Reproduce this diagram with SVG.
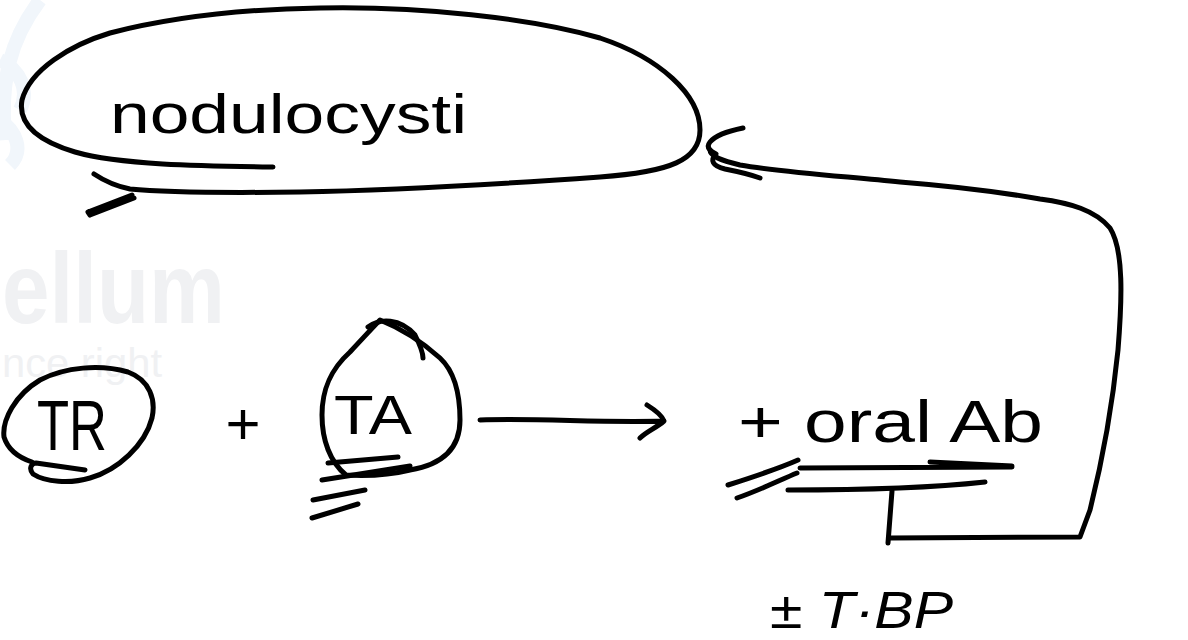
<svg xmlns="http://www.w3.org/2000/svg" width="1188" height="640" viewBox="0 0 1188 640">
<style>
.ink{fill:none;stroke:#000;stroke-width:5;stroke-linecap:round;stroke-linejoin:round}
.hw{font-family:"Liberation Sans","DejaVu Sans",sans-serif;fill:#000}
.wm{font-family:"Liberation Sans",Arial,sans-serif;fill:#f0f1f3}
</style>
<rect width="1188" height="640" fill="#fff"/>
<!-- faint watermark -->
<g id="watermark">
<path d="M40,0 C10,40 0,80 5,140 M0,60 C20,70 30,90 20,110 M0,120 C15,130 25,150 10,165" fill="none" stroke="#f1f6fb" stroke-width="14"/>
<text class="wm" x="2" y="323" font-size="100" font-weight="bold" textLength="223" lengthAdjust="spacingAndGlyphs">ellum</text>
<text class="wm" x="2" y="377" font-size="40" textLength="160" lengthAdjust="spacingAndGlyphs">nce right</text>
</g>
<g id="connectors">
<!-- TA to oral Ab arrow -->
<path class="ink" d="M480,420 C540,418 600,423 664,421 M647,405 C655,410 662,415 664,421 C656,428 646,432 640,438"/>
<!-- feedback loop from oral Ab back to nodulocysti -->
<path class="ink" d="M892,491 L888,543 M890,538 L1080,537 L1090,510 C1100,470 1112,410 1118,350 C1122,300 1124,250 1110,228 C1095,210 1070,203 1040,199 C1000,192 950,186 900,182 C840,176 780,172 740,165 C720,160 710,156 710,150"/>
<path class="ink" d="M743,128 C728,131 715,136 710,142 C705,148 712,152 716,154 C710,160 712,166 725,169 C740,172 752,175 760,178"/>
</g>
<g id="node-nodulocysti">
<path class="ink" d="M273,167 C200,166 120,165 75,152 C35,140 18,122 22,100 C30,70 70,45 110,33 C180,15 250,9 320,8 C420,6 530,18 600,38 C660,58 700,95 700,130 C700,160 670,172 600,177 C500,184 400,190 300,192 C220,193 160,192 130,189 C115,186 103,180 94,174"/>
<path class="ink" d="M132,195 L88,212 M134,198 L90,215 M88,212 L90,215"/>
<text class="hw" x="110" y="133" font-size="56" textLength="357" lengthAdjust="spacingAndGlyphs">nodulocysti</text>
</g>
<g id="node-TR">
<path class="ink" d="M32,462 C20,458 8,450 4,437 C2,420 15,395 40,380 C65,367 100,364 128,372 C150,380 156,400 152,418 C145,445 118,470 90,478 C70,484 45,482 33,474 C28,468 32,463 36,463 L85,470"/>
<text class="hw" x="37" y="450" font-size="70" textLength="70" lengthAdjust="spacingAndGlyphs">TR</text>
</g>
<g id="plus">
<text class="hw" x="243" y="444" font-size="60" text-anchor="middle">+</text>
</g>
<g id="node-TA">
<path class="ink" d="M346,475 C330,462 322,440 322,415 C322,390 330,370 350,352 C365,336 375,325 380,320 C400,328 420,340 440,358 C455,372 460,395 460,420 C460,450 440,465 410,470 C390,475 365,476 346,475"/>
<path class="ink" d="M368,327 C380,318 400,318 415,335 C420,345 423,352 423,358"/>
<text class="hw" x="334" y="434" font-size="56" textLength="78" lengthAdjust="spacingAndGlyphs">TA</text>
<path class="ink" d="M328,463 L398,457 M322,480 L410,466 M313,500 L365,490 M312,518 L358,504"/>
</g>
<g id="node-oral-ab">
<text class="hw" x="738" y="442" font-size="60" textLength="305" lengthAdjust="spacingAndGlyphs">+ oral Ab</text>
<path class="ink" d="M800,468 L1012,467 M930,462 L1012,466 M788,490 C850,490 930,488 985,482 M728,485 C750,478 780,468 798,460 M737,498 C760,490 780,480 797,473"/>
</g>
<g id="node-tbp">
<text class="hw" x="770" y="628" font-size="52" textLength="183" lengthAdjust="spacingAndGlyphs" font-style="italic">± T·BP</text>
</g>
</svg>
